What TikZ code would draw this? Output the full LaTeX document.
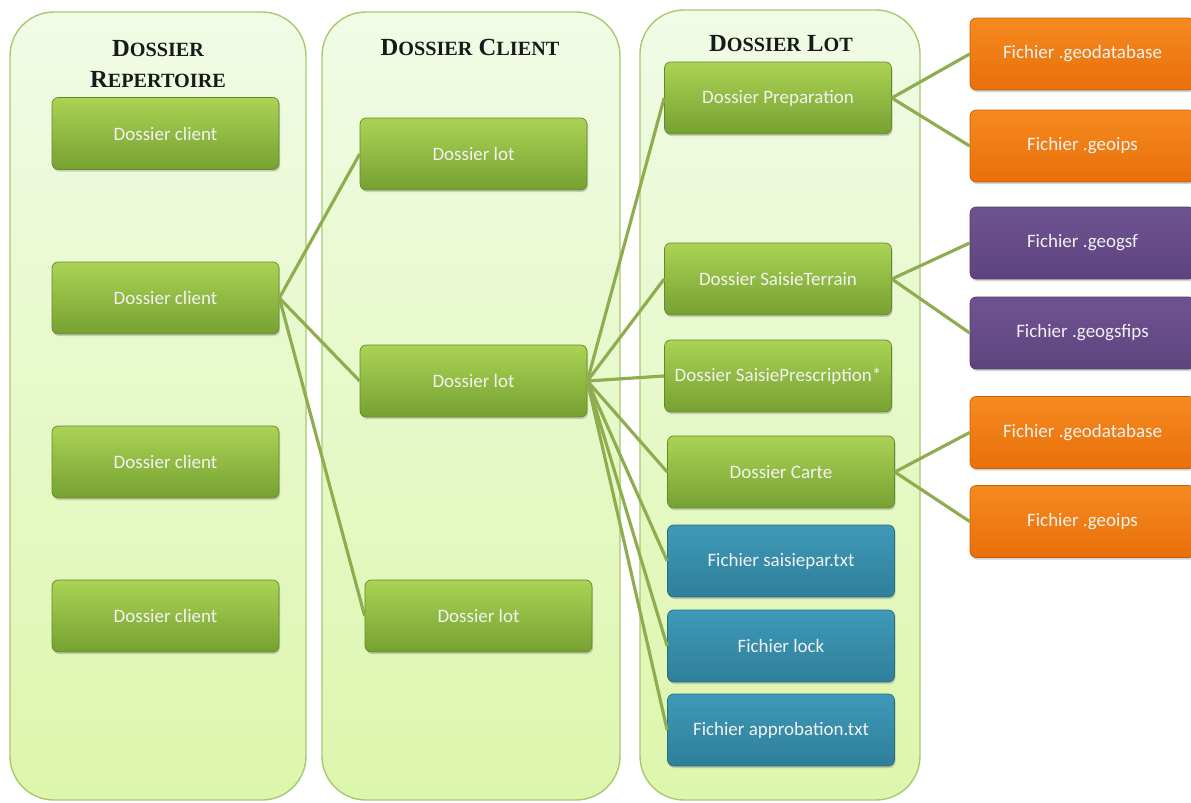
\documentclass[tikz,border=0pt]{standalone}
\usepackage{fontspec}
\setmainfont{Carlito}
\newfontfamily\headfont{Liberation Serif}
\usetikzlibrary{shadows}
\definecolor{paneltop}{HTML}{F1FBE6}
\definecolor{panelbot}{HTML}{DDF6AC}
\definecolor{panelline}{HTML}{A9C872}
\definecolor{greentop}{HTML}{ABD354}
\definecolor{greenbot}{HTML}{76A132}
\definecolor{orangetop}{HTML}{F58A1F}
\definecolor{orangebot}{HTML}{E96F0A}
\definecolor{purpletop}{HTML}{6E5391}
\definecolor{purplebot}{HTML}{5E447F}
\definecolor{tealtop}{HTML}{3E9AB8}
\definecolor{tealbot}{HTML}{2F7F99}
\definecolor{linkgreen}{HTML}{8EAD4E}
% small capitals for the headings
\newcommand{\hsm}[1]{{\fontsize{11.5}{18}\selectfont #1}}

\begin{document}
\begin{tikzpicture}[x=0.02cm,y=-0.02cm,
  panel/.style={draw=panelline,line width=0.8pt,rounded corners=25pt,top color=paneltop,bottom color=panelbot},
  head/.style={font=\headfont\bfseries\fontsize{14}{18}\selectfont,align=center,text=black!90},
  box/.style={rounded corners=3.5pt,minimum width=4.54cm,minimum height=1.44cm,text=white!95!black,
    font=\fontsize{10.8}{12}\selectfont,drop shadow={opacity=0.35,shadow xshift=0.6pt,shadow yshift=-1.2pt}},
  greenbox/.style={box,top color=greentop,bottom color=greenbot,draw=greenbot!85!black,line width=0.4pt},
  orangebox/.style={box,minimum width=4.5cm,top color=orangetop,bottom color=orangebot,draw=orangebot!85!black,line width=0.4pt},
  purplebox/.style={box,minimum width=4.5cm,top color=purpletop,bottom color=purplebot,draw=purplebot!85!black,line width=0.4pt},
  tealbox/.style={box,top color=tealtop,bottom color=tealbot,draw=tealbot!85!black,line width=0.4pt},
  link/.style={draw=linkgreen,line width=1.8pt}]
\useasboundingbox (0,0) rectangle (1191,803);
% columns
\path[panel] (10,12) rectangle (306,800);
\path[panel] (322,12) rectangle (620,800);
\path[panel] (640,10) rectangle (920,800);
\node[head] (hRep) at (158,64) {D\hsm{OSSIER}\\R\hsm{EPERTOIRE}};
\node[head] (hClient) at (470,47) {D\hsm{OSSIER} C\hsm{LIENT}};
\node[head] (hLot) at (781,44) {D\hsm{OSSIER} L\hsm{OT}};
% dossier repertoire
\node[greenbox] (client1) at (165.5,133.5) {Dossier client};
\node[greenbox] (client2) at (165.5,298) {Dossier client};
\node[greenbox] (client3) at (165.5,462) {Dossier client};
\node[greenbox] (client4) at (165.5,616) {Dossier client};
% dossier client
\node[greenbox] (lot1) at (473.5,154) {Dossier lot};
\node[greenbox] (lot2) at (473.5,381) {Dossier lot};
\node[greenbox] (lot3) at (478.5,616) {Dossier lot};
% dossier lot
\node[greenbox] (prep) at (778,98) {Dossier Preparation};
\node[greenbox] (terrain) at (778,279) {Dossier SaisieTerrain};
\node[greenbox] (prescr) at (778,376) {Dossier SaisiePrescription*};
\node[greenbox] (carte) at (781,472) {Dossier Carte};
\node[tealbox] (saisiepar) at (781,561) {Fichier saisiepar.txt};
\node[tealbox] (lock) at (781,646) {Fichier lock};
\node[tealbox] (approb) at (781,730) {Fichier approbation.txt};
% fichiers
\node[orangebox] (gdbA) at (1082.5,54) {Fichier .geodatabase};
\node[orangebox] (ipsA) at (1082.5,146) {Fichier .geoips};
\node[purplebox] (gsf) at (1082.5,243) {Fichier .geogsf};
\node[purplebox] (gsfips) at (1082.5,333) {Fichier .geogsfips};
\node[orangebox] (gdbB) at (1082.5,432.5) {Fichier .geodatabase};
\node[orangebox] (ipsB) at (1082.5,521.5) {Fichier .geoips};
% liens
\foreach \t in {lot1,lot2,lot3}
  \draw[link] (client2.east) -- (\t.west);
\foreach \t in {prep,terrain,prescr,carte,saisiepar,lock,approb}
  \draw[link] (lot2.east) -- (\t.west);
\draw[link] (prep.east) -- (gdbA.west);
\draw[link] (prep.east) -- (ipsA.west);
\draw[link] (terrain.east) -- (gsf.west);
\draw[link] (terrain.east) -- (gsfips.west);
\draw[link] (carte.east) -- (gdbB.west);
\draw[link] (carte.east) -- (ipsB.west);
\end{tikzpicture}
\end{document}
